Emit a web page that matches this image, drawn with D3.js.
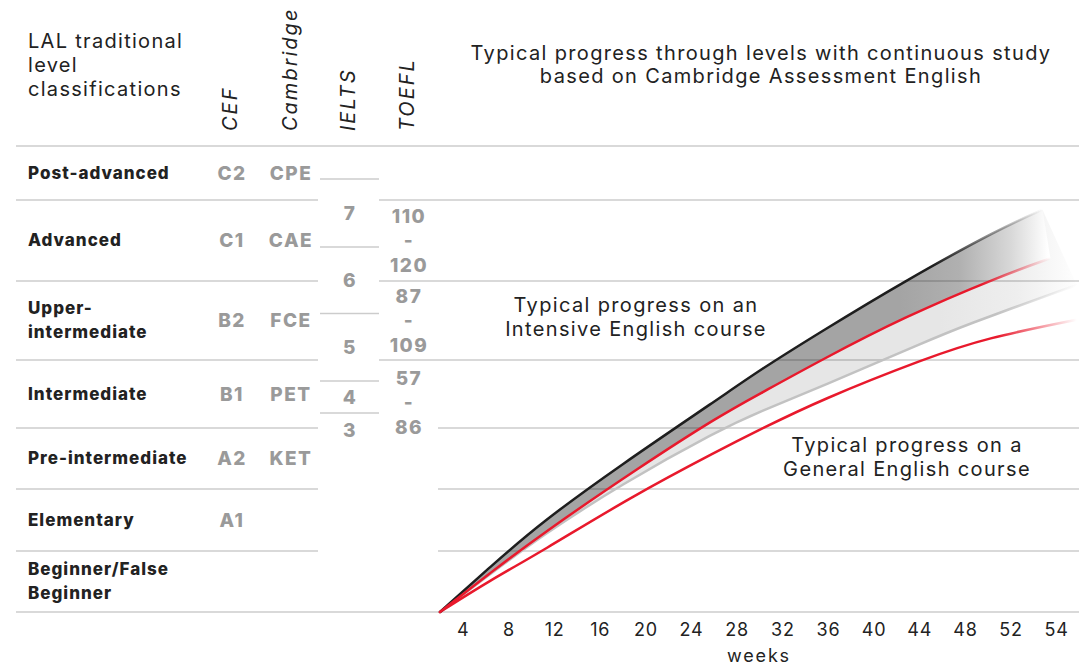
<!DOCTYPE html>
<html>
<head>
<meta charset="utf-8">
<script src="https://cdn.jsdelivr.net/npm/d3@7"></script>
<style>
  body { margin: 0; background: #fff; }
  svg { display: block; }
  text { font-family: Inter, "Open Sans", sans-serif; }
</style>
</head>
<body>
<div id="chart"></div>
<script>
// Width and height
var chartWidth  = 1084;
var chartHeight = 666;

// level rows, bottom to top
var levelNames = [
    ['Beginner/False', 'Beginner'], ['Elementary'], ['Pre-intermediate'],
    ['Intermediate'], ['Upper-', 'intermediate'], ['Advanced'], ['Post-advanced']];
var cefLevels       = ['', 'A1', 'A2', 'B1', 'B2', 'C1', 'C2'];
var cambridgeLevels = ['', '', 'KET', 'PET', 'FCE', 'CAE', 'CPE'];

// IELTS bands, boundaries given in level units
var ieltsScores = ['7', '6', '5', '4', '3'];
var ieltsBreaks = [6.39, 5.42, 4.59, 3.69, 3.22];

// TOEFL ranges and the level they sit on
var toeflRanges = [['110', '-', '120'], ['87', '-', '109'], ['57', '-', '86']];
var toeflLevels = [5.5, 4.5, 3.37];

// x axis
var tickWeeks  = [2, 6, 10, 14, 18, 22, 26, 30, 34, 38, 42, 46, 50, 54];
var tickLabels = ['4', '8', '12', '16', '20', '24', '28', '32', '36', '40', '44', '48', '52', '54'];

// progress curves: [week, level]
var intensiveHigh = [[0, 0], [4.4, 0.74], [8.8, 1.45], [15.8, 2.39], [24.5, 3.44], [28, 3.85],
    [33.3, 4.35], [40.6, 4.99], [49.1, 5.65], [52.8, 5.88]];
var intensiveLow  = [[0, 0], [4.4, 0.64], [8.8, 1.26], [17.5, 2.36], [24.5, 3.18], [28, 3.5],
    [33.3, 3.99], [40.6, 4.54], [49.1, 5.06], [53.5, 5.28]];
var generalHigh   = [[0, 0], [4.4, 0.62], [8.8, 1.23], [15.8, 2.07], [24.5, 2.97], [28, 3.24],
    [33.3, 3.6], [42.7, 4.24], [45.6, 4.42], [55.8, 4.95]];
var generalLow    = [[0, 0], [4.4, 0.52], [8.8, 0.98], [16.7, 1.87], [24.5, 2.64], [28, 2.97],
    [33.3, 3.41], [42.7, 4.03], [47.9, 4.28], [55.8, 4.51]];

// Scales
var x = d3.scaleLinear().domain([0, 56]).range([440, 1079]);
var y = d3.scaleLinear()
    .domain([0, 1, 2, 3, 4, 5, 6, 7])
    .range([612, 551, 489, 428, 360, 281, 200, 146]);

var gridColor = 'rgba(0,0,0,0.2)';
var red = '#e8192c';

// Create SVG
var svg = d3.select('#chart')
    .append('svg')
    .attr('width', chartWidth)
    .attr('height', chartHeight);

var defs = svg.append('defs');

function hGradient(id, x1, x2, stops){
    var g = defs.append('linearGradient')
        .attr('id', id)
        .attr('gradientUnits', 'userSpaceOnUse')
        .attr('x1', x1).attr('x2', x2)
        .attr('y1', 0).attr('y2', 0);
    stops.forEach(function(s){
        g.append('stop')
            .attr('offset', s[0])
            .attr('stop-color', s[1])
            .attr('stop-opacity', s[2] === undefined ? 1 : s[2]);
    });
}

hGradient('lightFill', 940, 1080, [[0, '#e6e6e6'], [0.55, '#eeeeee'], [1, '#ffffff']]);
hGradient('darkFill', 900, 1048, [[0, '#a4a4a4'], [0.4, '#b0b0b0'], [0.75, '#d8d8d8'], [1, '#ffffff']]);

var line = d3.line()
    .x(function(d){ return x(d[0]); })
    .y(function(d){ return y(d[1]); })
    .curve(d3.curveBasis);

function band(top, bottom){
    var back = bottom.slice().reverse();
    return line(top) + 'L' + line(back).slice(1) + 'Z';
}

// bands
svg.append('path')
    .attr('d', band(intensiveHigh, generalHigh))
    .attr('fill', 'url(#lightFill)');
svg.append('path')
    .attr('d', band(intensiveHigh, intensiveLow))
    .attr('fill', 'url(#darkFill)');

// row lines
var g = svg.append('g').attr('stroke', gridColor).attr('stroke-width', 1.5);
[0, 7].forEach(function(k){
    g.append('line').attr('x1', 16).attr('x2', 1079).attr('y1', y(k)).attr('y2', y(k));
});
[1, 2, 3, 4, 5, 6].forEach(function(k){
    g.append('line').attr('x1', 16).attr('x2', 318).attr('y1', y(k)).attr('y2', y(k));
    g.append('line').attr('x1', k >= 4 ? 379 : 438).attr('x2', 1079).attr('y1', y(k)).attr('y2', y(k));
});
ieltsBreaks.forEach(function(b){
    g.append('line').attr('x1', 320).attr('x2', 379).attr('y1', y(b)).attr('y2', y(b));
});

// curves
var curves = [
    {data: generalHigh,   color: '#c2c2c2', fade: 80},
    {data: generalLow,    color: red,       fade: 80},
    {data: intensiveHigh, color: '#1e1e1e', fade: 110},
    {data: intensiveLow,  color: red,       fade: 70}
];
curves.forEach(function(c, i){
    var endX = x(c.data[c.data.length - 1][0]);
    hGradient('stroke' + i, endX - c.fade, endX, [[0, c.color, 1], [1, c.color, 0]]);
    svg.append('path')
        .attr('d', line(c.data))
        .attr('fill', 'none')
        .attr('stroke', 'url(#stroke' + i + ')')
        .attr('stroke-width', 2.5)
        .attr('stroke-linecap', 'round');
});

// header
var head = svg.append('text')
    .attr('font-size', 20).attr('letter-spacing', 1.3).attr('fill', '#222');
['LAL traditional', 'level', 'classifications'].forEach(function(t, i){
    head.append('tspan').attr('x', 28).attr('y', 48 + i * 24).text(t);
});

var colHeads = [['CEF', 230], ['Cambridge', 290], ['IELTS', 348], ['TOEFL', 407]];
colHeads.forEach(function(c){
    svg.append('text')
        .attr('transform', 'translate(' + c[1] + ',131) rotate(-90)')
        .attr('dy', '0.35em')
        .attr('font-size', 20)
        .attr('letter-spacing', 2)
        .attr('font-style', 'italic')
        .attr('fill', '#222')
        .text(c[0]);
});

var title = svg.append('text')
    .attr('font-size', 20).attr('letter-spacing', 1.35)
    .attr('fill', '#222').attr('text-anchor', 'middle');
['Typical progress through levels with continuous study',
 'based on Cambridge Assessment English'].forEach(function(t, i){
    title.append('tspan').attr('x', 761).attr('y', 60 + i * 23).text(t);
});

// row labels
var rowMid = function(k){ return (y(k) + y(k + 1)) / 2; };
levelNames.forEach(function(names, k){
    var t = svg.append('text')
        .attr('font-size', 17).attr('font-weight', 800)
        .attr('letter-spacing', 1).attr('fill', '#222');
    names.forEach(function(n, j){
        t.append('tspan')
            .attr('x', 28)
            .attr('y', rowMid(k) + (j - (names.length - 1) / 2) * 24)
            .attr('dy', '0.35em')
            .text(n);
    });
});

function grayText(tx, ty, s){
    svg.append('text')
        .attr('x', tx).attr('y', ty).attr('dy', '0.35em')
        .attr('text-anchor', 'middle')
        .attr('font-size', 19).attr('font-weight', 800)
        .attr('letter-spacing', 1.5).attr('fill', '#9a9a9a')
        .text(s);
}
cefLevels.forEach(function(s, k){ if (s) grayText(232, rowMid(k), s); });
cambridgeLevels.forEach(function(s, k){ if (s) grayText(291, rowMid(k), s); });
ieltsScores.forEach(function(s, i){
    var ty = i < ieltsBreaks.length - 1
        ? (y(ieltsBreaks[i]) + y(ieltsBreaks[i + 1])) / 2
        : y(ieltsBreaks[i]) + 17;
    grayText(350, ty, s);
});
toeflRanges.forEach(function(r, i){
    r.forEach(function(s, j){ grayText(409, y(toeflLevels[i]) + (j - 1) * 24.5, s); });
});

// annotations
function note(cx, cy, lines){
    var t = svg.append('text')
        .attr('font-size', 20).attr('letter-spacing', 1.35)
        .attr('fill', '#222').attr('text-anchor', 'middle');
    lines.forEach(function(l, i){
        t.append('tspan').attr('x', cx).attr('y', cy + i * 24).attr('dy', '0.35em').text(l);
    });
}
note(636, 305, ['Typical progress on an', 'Intensive English course']);
note(907, 445, ['Typical progress on a', 'General English course']);

// x axis
var xAxis = d3.axisBottom(x)
    .tickValues(tickWeeks)
    .tickFormat(function(d, i){ return tickLabels[i]; })
    .tickSize(0)
    .tickPadding(11);
var ax = svg.append('g')
    .attr('transform', 'translate(0,' + y(0) + ')')
    .call(xAxis);
ax.select('.domain').remove();
ax.selectAll('text')
    .attr('font-size', 18)
    .attr('letter-spacing', 0.8)
    .attr('font-family', 'Inter, "Open Sans", sans-serif')
    .attr('fill', '#222');

svg.append('text')
    .attr('x', 759).attr('y', 656).attr('dy', '0.35em')
    .attr('text-anchor', 'middle')
    .attr('font-size', 18).attr('letter-spacing', 1.8).attr('fill', '#222')
    .text('weeks');
</script>
</body>
</html>
